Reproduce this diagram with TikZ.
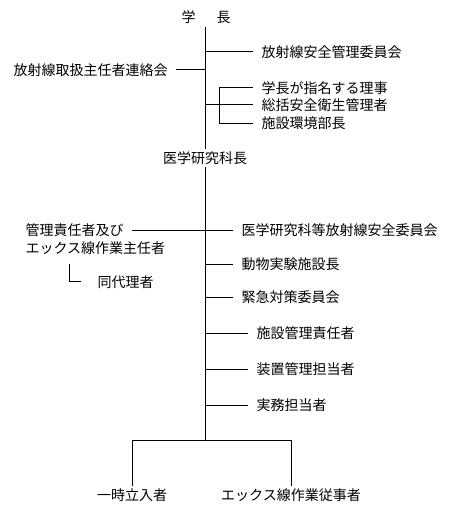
\documentclass[tikz,border=0pt]{standalone}
\usepackage{fontspec}
\setmainfont{Noto Sans CJK JP}
\begin{document}
\begin{tikzpicture}[x=1pt,y=-1pt,line width=1pt,
  lbl/.style={font=\fontsize{14}{16}\selectfont,inner xsep=8pt,inner ysep=0pt,anchor=west},
  ctr/.style={font=\fontsize{14}{16}\selectfont,inner xsep=0pt,inner ysep=2pt},
  conn/.style={draw=black}]
\useasboundingbox[fill=white] (0,0) rectangle (449,508);
% texts
\node[ctr] (pres) at (206,17) {学\hspace{21pt}長};
\node[lbl] (rsc) at (253,52) {放射線安全管理委員会};
\node[lbl,anchor=east] (liaison) at (176,70) {放射線取扱主任者連絡会};
\node[lbl] (dir) at (253,88) {学長が指名する理事};
\node[lbl] (gsm) at (253,105) {総括安全衛生管理者};
\node[lbl] (env) at (253,123) {施設環境部長};
\node[ctr] (dean) at (205,158) {医学研究科長};
\node[lbl] (mgr1) at (17,230) {管理責任者及び};
\node[lbl] (mgr2) at (17,248) {エックス線作業主任者};
\node[lbl] (dep) at (89,282) {同代理者};
\node[lbl] (com) at (233,230) {医学研究科等放射線安全委員会};
\node[lbl] (anim) at (233,264) {動物実験施設長};
\node[lbl] (emer) at (233,297) {緊急対策委員会};
\node[lbl] (fac) at (248,333) {施設管理責任者};
\node[lbl] (dev) at (248,369) {装置管理担当者};
\node[lbl] (prac) at (248,405) {実務担当者};
\node[ctr] (tmp) at (132,495) {一時立入者};
\node[ctr] (xw) at (291,495) {エックス線作業従事者};
% coordinates
\coordinate (t0) at (205,27);
\coordinate (jr) at (205,52);
\coordinate (jl) at (205,70);
\coordinate (jb) at (205,105);
\coordinate (bt) at (219,88);
\coordinate (bm) at (219,105);
\coordinate (bb) at (219,123);
\coordinate (lt) at (69,264);
\coordinate (lc) at (69,281);
\coordinate (bend) at (205,440);
\coordinate (bl) at (132,440);
\coordinate (br) at (291,440);
% trunk
\draw[conn] (t0) -- (dean.north);
\draw[conn] (dean.south) -- (bend);
% upper branches
\draw[conn] (jr) -- (rsc.west);
\draw[conn] (liaison.east) -- (jl);
\draw[conn] (jb) -- (gsm.west);
\draw[conn] (bt) -- (bb);
\draw[conn] (bt) -- (dir.west);
\draw[conn] (bb) -- (env.west);
% lower branches
\draw[conn] (mgr1.east) -- (com.west);
\draw[conn] (lt) -- (lc) -- ([xshift=-8pt]dep.west |- lc);
\draw[conn] (anim.west -| t0) -- (anim.west);
\draw[conn] (emer.west -| t0) -- (emer.west);
\draw[conn] (fac.west -| t0) -- (fac.west);
\draw[conn] (dev.west -| t0) -- (dev.west);
\draw[conn] (prac.west -| t0) -- (prac.west);
% bottom
\draw[conn] (tmp.north) -- (bl) -- (br) -- (xw.north);
\end{tikzpicture}
\end{document}
